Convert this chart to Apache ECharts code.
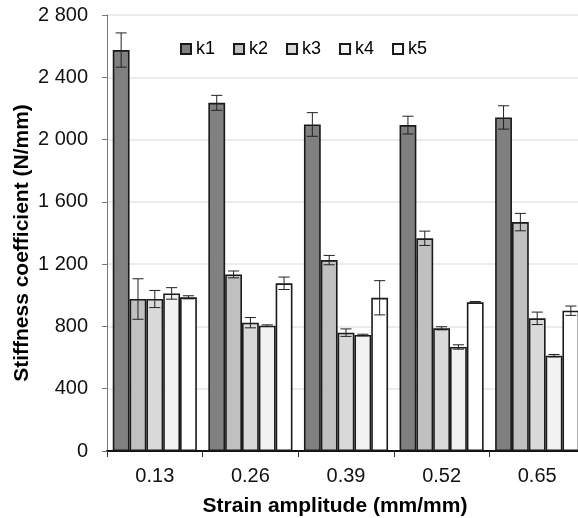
<!DOCTYPE html>
<html lang="en">
<head>
    <meta charset="utf-8">
    <title>Stiffness coefficient</title>
    <script src="https://cdn.jsdelivr.net/npm/echarts@6/dist/echarts.min.js"></script>
    <style>
        html, body { margin: 0; padding: 0; background: #fff; }
        #main { width: 578px; height: 518px; }
    </style>
</head>
<body>
    <div id="main"></div>

    <script type="text/javascript">
    // strain amplitudes (mm/mm)
    var categories = ['0.13', '0.26', '0.39', '0.52', '0.65'];
    var seriesNames = ['k1', 'k2', 'k3', 'k4', 'k5'];

    // mean stiffness (N/mm)
    var k1 = [2575, 2236, 2097, 2093, 2142];
    var k2 = [976, 1134, 1226, 1366, 1470];
    var k3 = [976, 824, 760, 788, 852];
    var k4 = [1012, 805, 745, 668, 612];
    var k5 = [987, 1077, 984, 955, 901];

    // error bar half-lengths
    var k1Err = [110, 48, 76, 57, 75];
    var k2Err = [130, 22, 30, 46, 56];
    var k3Err = [55, 33, 24, 10, 40];
    var k4Err = [37, 5, 5, 14, 8];
    var k5Err = [10, 40, 110, 5, 30];

    var yTicks = { min: 0, max: 2800, interval: 400 };

    var colors = ['#808080', '#c0c0c0', '#d9d9d9', '#f2f2f2', '#ffffff'];
    var values = [k1, k2, k3, k4, k5];
    var errors = [k1Err, k2Err, k3Err, k4Err, k5Err];
    var gapRatio = 0.12;
    var fontFamily = 'Liberation Sans, Arial, sans-serif';

    var myChart = echarts.init(document.getElementById('main'));

    var series = [];
    values.forEach(function (vals, i) {
        series.push({
            name: seriesNames[i],
            type: 'bar',
            data: vals,
            barGap: '0%',
            barCategoryGap: (gapRatio * 100) + '%',
            itemStyle: { color: colors[i], borderColor: '#1a1a1a', borderWidth: 1.6 },
            emphasis: { disabled: true }
        });
    });

    // error bars drawn with a custom series on the same axes
    values.forEach(function (vals, idx) {
        var errs = errors[idx];
        series.push({
            name: 'err-' + seriesNames[idx],
            type: 'custom',
            silent: true,
            z: 10,
            data: vals.map(function (v, i) { return [i, v, errs[i]]; }),
            encode: { x: 0, y: 1 },
            renderItem: function (params, api) {
                var c = api.value(0), v = api.value(1), e = api.value(2);
                var band = api.size([1, 0])[0];
                var bw = band * (1 - gapRatio) / 5;
                var cx = api.coord([c, v])[0] + (idx - 2) * bw;
                var top = api.coord([c, v + e])[1];
                var bot = api.coord([c, v - e])[1];
                var half = bw * 0.33;
                var st = { stroke: '#222', lineWidth: 1 };
                return {
                    type: 'group',
                    children: [
                        { type: 'line', shape: { x1: cx, y1: top, x2: cx, y2: bot }, style: st },
                        { type: 'line', shape: { x1: cx - half, y1: top, x2: cx + half, y2: top }, style: st },
                        { type: 'line', shape: { x1: cx - half, y1: bot, x2: cx + half, y2: bot }, style: st }
                    ]
                };
            }
        });
    });

    myChart.setOption({
        animation: false,
        textStyle: { fontFamily: fontFamily },
        legend: {
            data: seriesNames,
            left: 175,
            top: 35,
            itemWidth: 10,
            itemHeight: 10,
            itemGap: 18,
            icon: 'rect',
            textStyle: { fontSize: 18, color: '#000' }
        },
        grid: { left: 107, right: -7, top: 15, bottom: 67, outerBoundsMode: 'none' },
        // y axis title placed by hand so it sits where the original has it
        graphic: [{
            type: 'text',
            x: 22,
            y: 243,
            rotation: Math.PI / 2,
            style: {
                text: 'Stiffness coefficient (N/mm)',
                font: 'bold 21px ' + fontFamily,
                fill: '#000',
                align: 'center',
                verticalAlign: 'middle'
            }
        }],
        xAxis: {
            type: 'category',
            data: categories,
            name: 'Strain amplitude (mm/mm)',
            nameLocation: 'middle',
            nameGap: 45,
            nameTextStyle: { fontSize: 21, fontWeight: 'bold', color: '#000', padding: [0, 22, 0, 0] },
            axisLine: { lineStyle: { color: '#111', width: 2 } },
            axisTick: { show: true, length: 6, lineStyle: { color: '#333' } },
            axisLabel: { fontSize: 20, color: '#111', margin: 15 }
        },
        yAxis: {
            type: 'value',
            min: yTicks.min,
            max: yTicks.max,
            interval: yTicks.interval,
            axisLine: { show: true, lineStyle: { color: '#777', width: 1 } },
            axisTick: { show: true, length: 5, lineStyle: { color: '#777' } },
            axisLabel: {
                fontSize: 20,
                color: '#111',
                margin: 19,
                formatter: function (v) { return String(v).replace(/\B(?=(\d{3})+(?!\d))/g, ' '); }
            },
            splitLine: { lineStyle: { color: '#e6e6e6', width: 1.5 } }
        },
        series: series
    });
    </script>
</body>
</html>
